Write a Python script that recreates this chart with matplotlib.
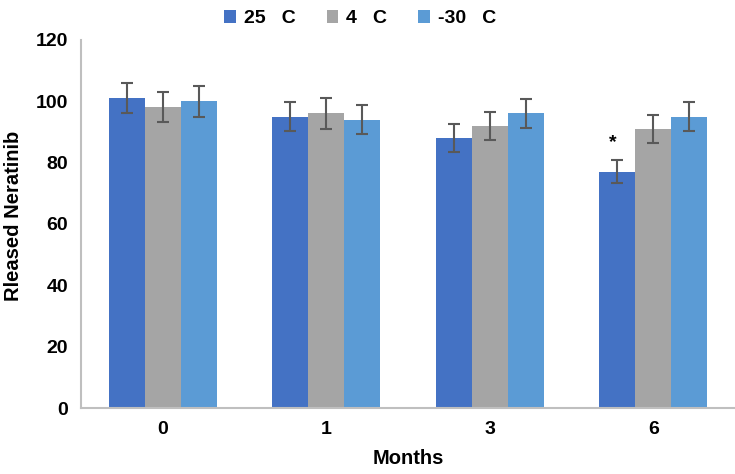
import matplotlib.pyplot as plt
import numpy as np

plt.rcParams['font.family'] = ['Liberation Sans', 'DejaVu Sans']
plt.rcParams['font.weight'] = 'bold'

months = ['0', '1', '3', '6']
series_names = ['25   C', '4   C', '-30   C']
release_25 = [101, 95, 88, 77]
release_4 = [98, 96, 92, 91]
release_m30 = [100, 94, 96, 95]
err_25 = [5.0, 4.8, 4.5, 3.8]
err_4 = [4.9, 5.0, 4.6, 4.6]
err_m30 = [5.0, 4.6, 4.8, 4.8]
colors = ['#4472C4', '#A5A5A5', '#5B9BD5']

fig = plt.figure(figsize=(7.35, 4.74), dpi=100)
ax = fig.add_axes([0.110, 0.139, 0.890, 0.777])

x = np.arange(len(months))
w = 0.22
values = [release_25, release_4, release_m30]
errors = [err_25, err_4, err_m30]
for i, (vals, errs) in enumerate(zip(values, errors)):
    ax.bar(x + (i - 1) * w, vals, w, color=colors[i], label=series_names[i],
           yerr=errs, error_kw=dict(ecolor='#595959', elinewidth=1.5,
                                    capsize=4, capthick=1.5), zorder=2)

# significance marker on the 6-month 25 C bar
ax.text(x[3] - w - 0.03, release_25[3] + err_25[3] + 3, '*', ha='center',
        va='bottom', fontsize=14, fontweight='bold')

ax.set_xlim(-0.5, 3.5)
ax.set_ylim(0, 120)
ax.set_yticks(np.arange(0, 121, 20))
ax.set_xticks(x)
ax.set_xticklabels(months)
ax.tick_params(axis='both', length=0, labelsize=14, pad=9)
for lab in ax.get_xticklabels() + ax.get_yticklabels():
    lab.set_fontweight('bold')

for s in ['top', 'right']:
    ax.spines[s].set_visible(False)
for s in ['left', 'bottom']:
    ax.spines[s].set_color('#BFBFBF')
    ax.spines[s].set_linewidth(1.5)

ax.set_xlabel('Months', fontsize=14.5, fontweight='bold', labelpad=8)
ax.set_ylabel('Rleased Neratinib', fontsize=14.5, fontweight='bold')
ax.yaxis.set_label_coords(-0.088, 0.522)

leg = fig.legend(loc='upper center', bbox_to_anchor=(0.49, 1.015), ncol=3,
                 frameon=False, prop=dict(size=14, weight='bold'),
                 handlelength=0.6, handleheight=0.6, handletextpad=0.4,
                 columnspacing=1.6)

fig.savefig('out.png', dpi=100)
